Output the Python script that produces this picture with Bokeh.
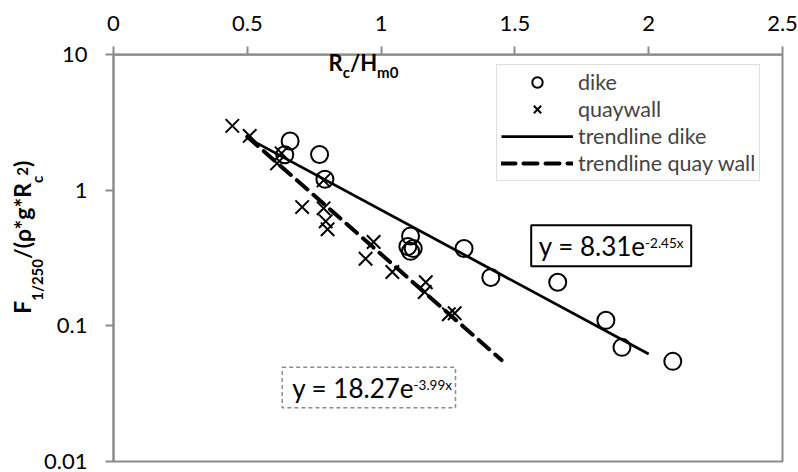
import subprocess
from math import pi, log10

from bokeh.plotting import figure
from bokeh.models import (FixedTicker, CustomJSTickFormatter, Legend, LegendItem,
                          Label, BoxAnnotation)
from bokeh.embed import file_html
from bokeh.resources import INLINE

# ---------------- data ----------------
x_ticks = [0, 0.5, 1, 1.5, 2, 2.5]
y_ticks = [0.01, 0.1, 1, 10]

dike_x = [0.66, 0.64, 0.77, 0.79, 1.11, 1.10, 1.12, 1.11, 1.31, 1.41, 1.66, 1.84, 1.90, 2.09]
dike_y = [2.31, 1.83, 1.84, 1.21, 0.46, 0.386, 0.373, 0.355, 0.373, 0.228, 0.21, 0.11, 0.0695, 0.0548]

quay_x = [0.444, 0.509, 0.628, 0.611, 0.785, 0.705, 0.785, 0.793, 0.800, 0.972, 0.942,
          1.042, 1.167, 1.163, 1.253, 1.275]
quay_y = [2.99, 2.52, 1.875, 1.58, 1.185, 0.753, 0.737, 0.591, 0.516, 0.416, 0.313,
          0.25, 0.21, 0.178, 0.122, 0.124]

# trendline end points (y = 8.31e^-2.45x and y = 18.27e^-3.99x)
trend_dike_x = [0.5, 2.0]
trend_dike_y = [2.44, 0.062]
trend_quay_x = [0.5, 1.45]
trend_quay_y = [2.49, 0.056]

legend_labels = ["dike", "quaywall", "trendline dike", "trendline quay wall"]
eq_dike = ("y = 8.31e", "-2.45x")
eq_quay = ("y = 18.27e", "-3.99x")

FONT = "Lato"
AXIS_GRAY = "#8c8c8c"
W, H = 798, 472

# plot box (axes) position on the canvas, in pixels
BOX_L, BOX_R, BOX_T, BOX_B = 113.0, 782.0, 54.3, 461.0

# ---------------- text width helper ----------------
_paths = {}


def _font_file(bold):
    if bold in _paths:
        return _paths[bold]
    path = None
    try:
        spec = "Lato:bold" if bold else "Lato:regular"
        path = subprocess.run(["fc-match", "-f", "%{file}", spec], capture_output=True,
                              text=True, timeout=5).stdout.strip() or None
    except Exception:
        path = None
    _paths[bold] = path
    return path


def text_width(text, size, bold=False):
    try:
        from PIL import ImageFont
        f = ImageFont.truetype(_font_file(bold), size)
        return f.getlength(text)
    except Exception:
        return len(text) * size * 0.55


# ---------------- ranges: frame covers the whole canvas ----------------
xmin, xmax = x_ticks[0], x_ticks[-1]
ymin, ymax = y_ticks[0], y_ticks[-1]
ppx = (BOX_R - BOX_L) / (xmax - xmin)
ppd = (BOX_B - BOX_T) / (log10(ymax) - log10(ymin))
x_range = (xmin - BOX_L / ppx, xmax + (W - BOX_R) / ppx)
y_range = (10 ** (log10(ymin) - (H - BOX_B) / ppd), 10 ** (log10(ymax) + BOX_T / ppd))

p = figure(width=W, height=H, x_range=x_range, y_range=y_range,
           y_axis_type="log", x_axis_location="above",
           output_backend="svg", toolbar_location=None,
           min_border_left=0, min_border_right=0, min_border_top=0, min_border_bottom=0)

p.background_fill_color = "white"
p.border_fill_color = "white"
p.outline_line_color = None
p.xgrid.visible = False
p.ygrid.visible = False

fmt = CustomJSTickFormatter(code="return String(tick)")
for ax, ticks in ((p.xaxis[0], x_ticks), (p.yaxis[0], y_ticks)):
    ax.ticker = FixedTicker(ticks=ticks)
    ax.formatter = fmt
    ax.axis_line_color = AXIS_GRAY
    ax.axis_line_width = 2
    ax.major_tick_line_color = AXIS_GRAY
    ax.major_tick_line_width = 2
    ax.major_tick_out = 8
    ax.major_tick_in = 0
    ax.minor_tick_out = 0
    ax.minor_tick_in = 0
    ax.major_label_text_font = FONT
    ax.major_label_text_font_size = "22px"
    ax.major_label_text_color = "black"
p.xaxis.fixed_location = ymax
p.xaxis.bounds = (xmin, xmax)
p.yaxis.fixed_location = xmin
p.yaxis.bounds = (ymin, ymax)
p.xaxis.major_label_standoff = 16
p.yaxis.major_label_standoff = 18

# right and bottom edges of the plot area
p.add_layout(BoxAnnotation(left=xmin, right=xmax, bottom=ymin, top=ymax,
                           fill_alpha=0, line_color=AXIS_GRAY, line_alpha=1, line_width=2,
                           level="underlay"))

# ---------------- data renderers ----------------
r_dike = p.scatter(dike_x, dike_y, marker="circle", size=17, line_color="black",
                   line_width=2, fill_alpha=0)
r_quay = p.scatter(quay_x, quay_y, marker="x", size=19, line_color="black", line_width=2)
r_tdike = p.line(trend_dike_x, trend_dike_y, line_color="black", line_width=2.75)
r_tquay = p.line(trend_quay_x, trend_quay_y, line_color="black", line_width=4,
                 line_dash="14 8", line_cap="round")

legend = Legend(items=[LegendItem(label=legend_labels[0], renderers=[r_dike]),
                       LegendItem(label=legend_labels[1], renderers=[r_quay]),
                       LegendItem(label=legend_labels[2], renderers=[r_tdike]),
                       LegendItem(label=legend_labels[3], renderers=[r_tquay])],
                location=(496, H - 181.3), margin=0, padding=4, spacing=1,
                glyph_width=72, glyph_height=26, label_height=26, label_standoff=5,
                label_text_font=FONT, label_text_font_size="21.5px",
                border_line_color="#bfbfbf", border_line_width=1.5,
                background_fill_color="white", background_fill_alpha=1)
p.add_layout(legend)


# ---------------- annotations (canvas pixel positions, y measured from the top) ----------------
def add_label(text, px, py, size, bold=False, rotated=False):
    # empirical baseline correction
    if rotated:
        sx, sy = px - 0.35 * size, H - py
    else:
        sx, sy = px, H - py + 0.35 * size
    p.add_layout(Label(x=sx, y=sy, x_units="screen", y_units="screen", text=text,
                       text_font=FONT, text_font_size=f"{size}px",
                       text_font_style="bold" if bold else "normal",
                       text_color="black", text_baseline="alphabetic",
                       text_align="left", angle=pi / 2 if rotated else 0.0))


def eq_box(left, right, top, bottom, color, dash, width):
    p.add_layout(BoxAnnotation(left=left, right=right, top=H - top, bottom=H - bottom,
                               left_units="screen", right_units="screen",
                               top_units="screen", bottom_units="screen",
                               fill_color="white", fill_alpha=1,
                               line_color=color, line_alpha=1,
                               line_width=width, line_dash=dash))


def eq_text(eq, px, py):
    main, sup = eq
    add_label(main, px, py, 26)
    add_label(sup, px + text_width(main, 26), py - 7.4, 13.5)


eq_box(530.7, 690.7, 224.7, 265.7, "black", "solid", 2)
eq_text(eq_dike, 538.3, 254.7)
eq_box(281.7, 455.0, 366.7, 407.3, "#8c8c8c", "4 3", 1.5)
eq_text(eq_quay, 291.7, 396.7)

# x axis title: R_c/H_m0 (inside the plot box, top)
xt = [("R", 22, 0), ("c", 15, 7), ("/H", 22, 0), ("m0", 15, 7)]
cx = 328.0
for t, s, dy in xt:
    add_label(t, cx, 70 + dy, s, bold=True)
    cx += text_width(t, s, True)

# y axis title: F_1/250/(rho*g*R_c^2), rotated, reading upwards
yt = [("F", 23, 0), ("1/250", 15, 12), ("/(ρ*g*R", 23, 0), ("c", 15, 12), ("2", 15, -3), (")", 23, 0)]
cy = 313.3
for t, s, dx in yt:
    add_label(t, 30 + dx, cy, s, bold=True, rotated=True)
    cy -= text_width(t, s, True)

open("out.html", "w").write(file_html(p, INLINE))
